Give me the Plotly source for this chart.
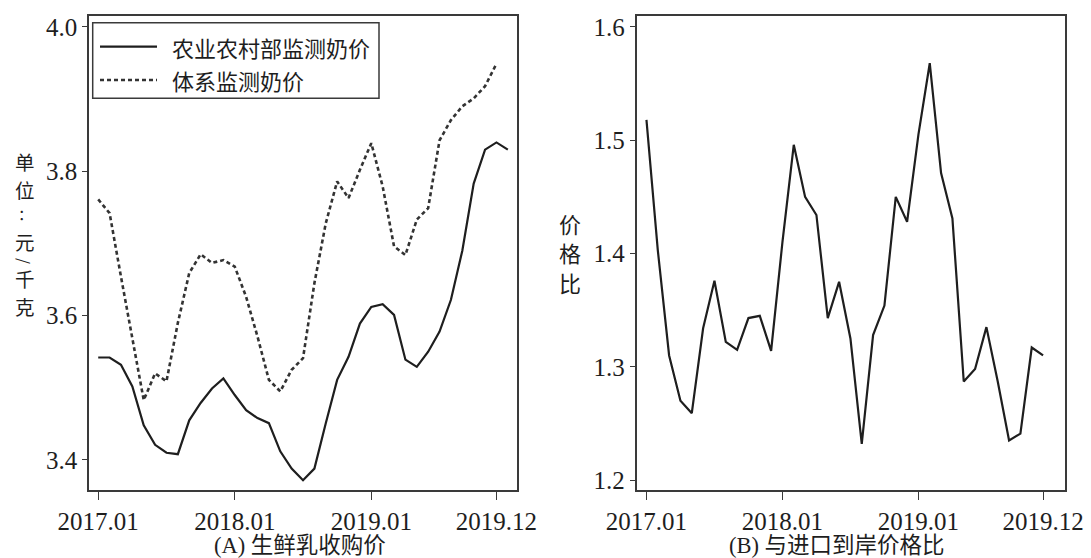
import plotly.graph_objects as go

# ---------------- data ----------------
months_a = ['2017.01','2017.02','2017.03','2017.04','2017.05','2017.06','2017.07','2017.08','2017.09','2017.10','2017.11','2017.12',
            '2018.01','2018.02','2018.03','2018.04','2018.05','2018.06','2018.07','2018.08','2018.09','2018.10','2018.11','2018.12',
            '2019.01','2019.02','2019.03','2019.04','2019.05','2019.06','2019.07','2019.08','2019.09','2019.10','2019.11','2019.12',
            '2020.01']
months_b = months_a[:36]

moa_price = [3.542, 3.542, 3.532, 3.502, 3.448, 3.421, 3.410, 3.408, 3.455, 3.479, 3.499, 3.513,
             3.490, 3.469, 3.458, 3.451, 3.412, 3.388, 3.372, 3.388, 3.451, 3.511, 3.543, 3.589,
             3.612, 3.616, 3.601, 3.539, 3.529, 3.550, 3.578, 3.622, 3.690, 3.783, 3.830, 3.840,
             3.830]
sys_price = [3.761, 3.742, 3.654, 3.566, 3.483, 3.520, 3.509, 3.590, 3.659, 3.685, 3.673, 3.677,
             3.668, 3.626, 3.571, 3.511, 3.495, 3.525, 3.541, 3.645, 3.728, 3.786, 3.763, 3.802,
             3.839, 3.779, 3.696, 3.684, 3.733, 3.749, 3.843, 3.871, 3.890, 3.901, 3.918, 3.949]
price_ratio = [1.518, 1.403, 1.310, 1.270, 1.259, 1.334, 1.376, 1.322, 1.315, 1.343, 1.345, 1.314,
               1.410, 1.496, 1.450, 1.434, 1.343, 1.375, 1.325, 1.232, 1.328, 1.354, 1.450, 1.428,
               1.505, 1.568, 1.471, 1.431, 1.287, 1.298, 1.335, 1.287, 1.235, 1.241, 1.317, 1.310]

x_ticks = ['2017.01', '2018.01', '2019.01', '2019.12']
y_ticks_a = [3.4, 3.6, 3.8, 4.0]
y_ticks_b = [1.2, 1.3, 1.4, 1.5, 1.6]
marker_month = '2019.01'

name_moa = '农业农村部监测奶价'
name_sys = '体系监测奶价'
title_a = '(A) 生鲜乳收购价'
title_b = '(B) 与进口到岸价格比'
ytitle_a = ['单', '位', '：', '元', '/', '千', '克']
ytitle_b = ['价', '格', '比']

# ---------------- layout helpers ----------------
W, H = 1091, 558
T, B = 16, 68
def px(x):
    return x / W
def py(y):
    return (H - B - y) / (H - T - B)

SERIF = 'Liberation Serif, Noto Sans CJK SC'
CJK = 'Noto Sans CJK SC'
INK = '#1e1e1e'
FRAME = '#3a3a3a'

fig = go.Figure()
fig.add_trace(go.Scatter(x=months_a, y=moa_price, mode='lines', name=name_moa,
                         line=dict(color=INK, width=2.2), xaxis='x', yaxis='y', showlegend=False))
fig.add_trace(go.Scatter(x=months_b, y=sys_price, mode='lines', name=name_sys,
                         line=dict(color='#333333', width=2.6, dash='4px,3px'), xaxis='x', yaxis='y', showlegend=False))
fig.add_trace(go.Scatter(x=months_b, y=price_ratio, mode='lines', name='价格比',
                         line=dict(color=INK, width=2.2), xaxis='x2', yaxis='y2', showlegend=False))

axis_common = dict(showline=True, mirror=True, linecolor=FRAME, linewidth=1.6, automargin=False,
                   showgrid=False, zeroline=False, ticks='outside', tickcolor=FRAME, tickwidth=1.3,
                   tickfont=dict(family=SERIF, size=25, color=INK))

fig.update_layout(
    width=W, height=H, autosize=False,
    margin=dict(l=0, r=0, t=T, b=B, pad=0),
    paper_bgcolor='white', plot_bgcolor='white',
    xaxis=dict(domain=[px(89), px(516.7)], type='category', range=[-0.81, 36.78],
               tickvals=x_ticks, ticktext=x_ticks, ticklen=8, anchor='y', **axis_common),
    yaxis=dict(domain=[0, 1], range=[3.3584, 4.0152], tickvals=y_ticks_a,
               ticktext=[f'{v:.1f}' for v in y_ticks_a], ticklen=5, anchor='x', **axis_common),
    xaxis2=dict(domain=[px(636.6), px(1064.6)], type='category', range=[-0.87, 36.9],
                tickvals=x_ticks, ticktext=x_ticks, ticklen=8, anchor='y2', **axis_common),
    yaxis2=dict(domain=[0, 1], range=[1.1912, 1.6097], tickvals=y_ticks_b,
                ticktext=[f'{v:.1f}' for v in y_ticks_b], ticklen=5, anchor='x2', **axis_common),
)

# vertical marker lines at 2019.01
for xr in ['x', 'x2']:
    fig.add_shape(type='line', xref=xr, yref=('y' if xr == 'x' else 'y2') + ' domain',
                  x0=marker_month, x1=marker_month, y0=0, y1=1,
                  line=dict(color='#4a4acc', width=1.3, dash='3px,2px'))

# custom legend
fig.add_shape(type='rect', xref='paper', yref='paper', x0=px(92.7), x1=px(379), y0=py(98.3), y1=py(22.7),
              line=dict(color=FRAME, width=1.5), fillcolor='white')
fig.add_shape(type='line', xref='paper', yref='paper', x0=px(100), x1=px(157), y0=py(46.7), y1=py(46.7),
              line=dict(color=INK, width=2.2))
fig.add_shape(type='line', xref='paper', yref='paper', x0=px(100), x1=px(157), y0=py(80), y1=py(80),
              line=dict(color='#333333', width=2.4, dash='4px,3px'))
for txt, yy in [(name_moa, 46.7), (name_sys, 80)]:
    fig.add_annotation(text=txt, xref='paper', yref='paper', x=px(170), y=py(yy), xanchor='left',
                       yanchor='middle', showarrow=False, font=dict(family=CJK, size=22, color=INK))

# panel titles
fig.add_annotation(text=title_a, xref='paper', yref='paper', x=px(300), y=py(545), xanchor='center',
                   yanchor='middle', showarrow=False, font=dict(family=SERIF, size=22.5, color=INK))
fig.add_annotation(text=title_b, xref='paper', yref='paper', x=px(837), y=py(545), xanchor='center',
                   yanchor='middle', showarrow=False, font=dict(family=SERIF, size=22.5, color=INK))

# vertical axis titles: one upright character per text
ya_pos = [161, 189, 213, 242, 261, 278, 306]
for ch, yy in zip(ytitle_a, ya_pos):
    small = ch in ('：', '/')
    fig.add_annotation(text=ch, xref='paper', yref='paper', x=px(25), y=py(yy), xanchor='center',
                       yanchor='middle', showarrow=False, textangle=(90 if ch == '/' else 0),
                       font=dict(family=CJK, size=(15 if small else 19.5), color=INK))
yb_pos = [223, 252.5, 282]
for ch, yy in zip(ytitle_b, yb_pos):
    fig.add_annotation(text=ch, xref='paper', yref='paper', x=px(570), y=py(yy), xanchor='center',
                       yanchor='middle', showarrow=False, font=dict(family=CJK, size=22, color=INK))

fig.write_html('out.html', config={'displayModeBar': False},
               post_script="document.body.style.margin='0';")
